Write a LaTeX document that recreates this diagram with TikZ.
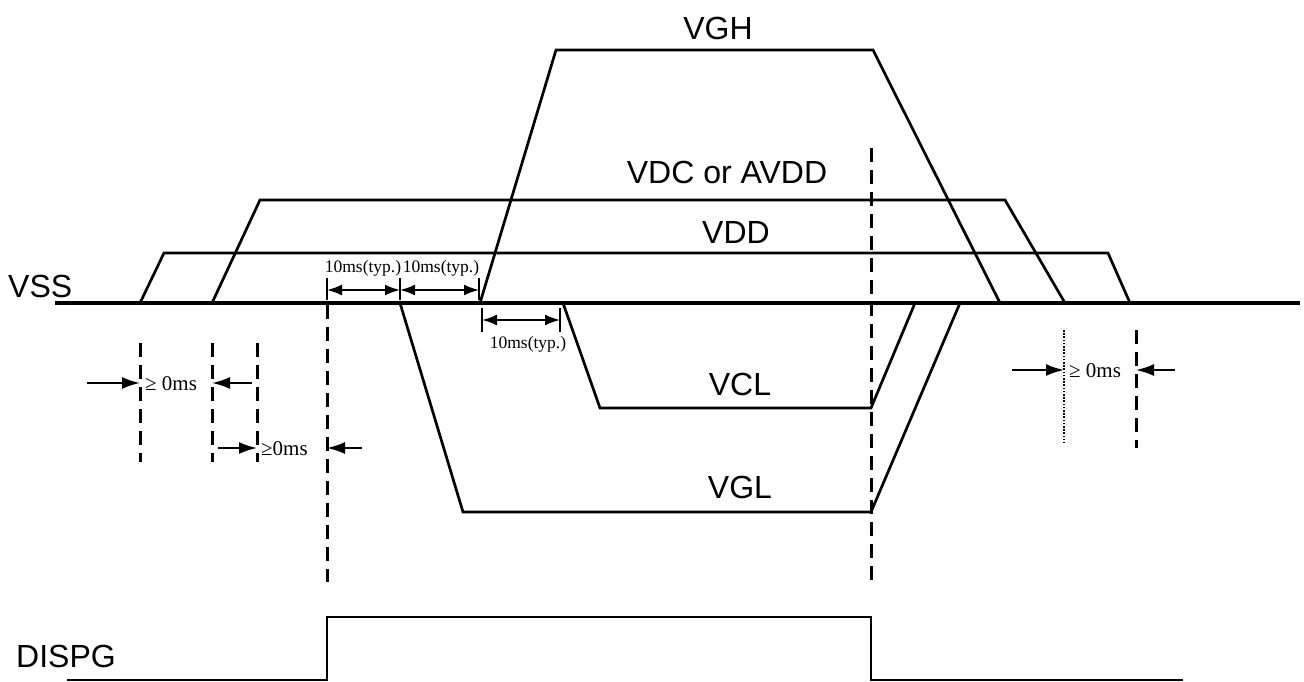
\documentclass[tikz,border=0pt]{standalone}
\usepackage{fontspec}
\setmainfont{Liberation Serif}
\newfontfamily\arialf{Liberation Sans}
\usetikzlibrary{arrows.meta}
\tikzset{
  sig/.style={line width=2.7pt, line join=miter},
  base/.style={line width=3.5pt},
  guide/.style={line width=3pt, dash pattern=on 14pt off 8pt},
  dotguide/.style={line width=2.4pt, dash pattern=on 1.6pt off 1.6pt},
  tick/.style={line width=2pt},
  dimarr/.style={line width=2pt, {Latex[length=15pt,width=11pt]}-{Latex[length=15pt,width=11pt]}},
  inarr/.style={line width=2pt, -{Latex[length=18pt,width=12pt]}},
  siglabel/.style={font=\arialf\fontsize{32}{34}\selectfont, inner sep=0pt, anchor=base},
  typlabel/.style={font=\fontsize{17.5}{18}\selectfont, inner sep=0pt, anchor=base},
  gelabel/.style={font=\fontsize{21}{22}\selectfont, inner sep=0pt, anchor=base west},
}
\begin{document}
\begin{tikzpicture}[x=1pt,y=-1pt]
\useasboundingbox (0,0) rectangle (1304,682);
% labels
\node[siglabel] (vgh) at (718,40) {VGH};
\node[siglabel] (vdc) at (727,183) {VDC or AVDD};
\node[siglabel] (vdd) at (736,243) {VDD};
\node[siglabel, anchor=base west] (vss) at (8,297) {VSS};
\node[siglabel] (vcl) at (740,395) {VCL};
\node[siglabel] (vgl) at (740,498) {VGL};
\node[siglabel, anchor=base west] (dispg) at (16,667) {DISPG};
% VSS baseline
\coordinate (vssL) at (55,303);
\coordinate (vssR) at (1300,303);
\draw[base] (vssL) -- (vssR);
% VDD
\draw[sig] (140,303) -- (164,253) -- (1108,253) -- (1130,303);
% VDC or AVDD
\draw[sig] (212,303) -- (260,200) -- (1005,200) -- (1065,303);
% VGH
\draw[sig] (480,303) -- (556,50) -- (873,50) -- (1000,303);
% VGL
\draw[sig] (400,303) -- (463,512) -- (871,512) -- (960,303);
% VCL
\draw[sig] (563,303) -- (600,408) -- (871,408) -- (915,303);
% DISPG
\draw[sig] (67,680) -- (327,680) -- (327,617) -- (871,617) -- (871,680) -- (1183,680);
% long guides
\coordinate (gA1) at (327,305); \coordinate (gA2) at (327,582);
\coordinate (gB1) at (871,148); \coordinate (gB2) at (871,582);
\draw[guide] (gA1) -- (gA2);
\draw[guide] (gB1) -- (gB2);
% short guides left
\draw[guide] (140,343) -- (140,462);
\draw[guide] (212,343) -- (212,462);
\draw[guide] (257,343) -- (257,462);
% right guides
\draw[dotguide] (1064,330) -- (1064,443);
\draw[guide] (1136,330) -- (1136,448);
% 10ms dimensions above baseline
\coordinate (t1a) at (327,278); \coordinate (t1b) at (327,300);
\coordinate (t2a) at (400,278); \coordinate (t2b) at (400,300);
\coordinate (t3a) at (479,278); \coordinate (t3b) at (479,300);
\draw[tick] (t1a) -- (t1b);
\draw[tick] (t2a) -- (t2b);
\draw[tick] (t3a) -- (t3b);
\coordinate (d1a) at (327,290); \coordinate (d1b) at (400,290); \coordinate (d1c) at (479,290);
\draw[dimarr] (d1a) -- (d1b);
\draw[dimarr] (d1b) -- (d1c);
\node[typlabel] (typ1) at (363,272) {10ms(typ.)};
\node[typlabel] (typ2) at (441,272) {10ms(typ.)};
% 10ms dimension below baseline
\coordinate (t4a) at (482,308); \coordinate (t4b) at (482,332);
\coordinate (t5a) at (560,308); \coordinate (t5b) at (560,332);
\draw[tick] (t4a) -- (t4b);
\draw[tick] (t5a) -- (t5b);
\draw[dimarr] (t4a |- 0,320) -- (t5a |- 0,320);
\node[typlabel] (typ3) at (528,348) {10ms(typ.)};
% >= 0ms left 1
\coordinate (a1s) at (87,383); \coordinate (a1e) at (140,383);
\coordinate (a2s) at (252,383); \coordinate (a2e) at (212,383);
\draw[inarr] (a1s) -- (a1e);
\draw[inarr] (a2s) -- (a2e);
\node[gelabel] (ge1) at (145,390) {≥ 0ms};
% >= 0ms left 2
\coordinate (b1s) at (218,448); \coordinate (b1e) at (257,448);
\coordinate (b2s) at (362,448); \coordinate (b2e) at (327,448);
\draw[inarr] (b1s) -- (b1e);
\draw[inarr] (b2s) -- (b2e);
\node[gelabel] (ge2) at (261,455) {≥0ms};
% >= 0ms right
\coordinate (c1s) at (1012,370); \coordinate (c1e) at (1064,370);
\coordinate (c2s) at (1175,370); \coordinate (c2e) at (1136,370);
\draw[inarr] (c1s) -- (c1e);
\draw[inarr] (c2s) -- (c2e);
\node[gelabel] (ge3) at (1069,377) {≥ 0ms};
\end{tikzpicture}
\end{document}
